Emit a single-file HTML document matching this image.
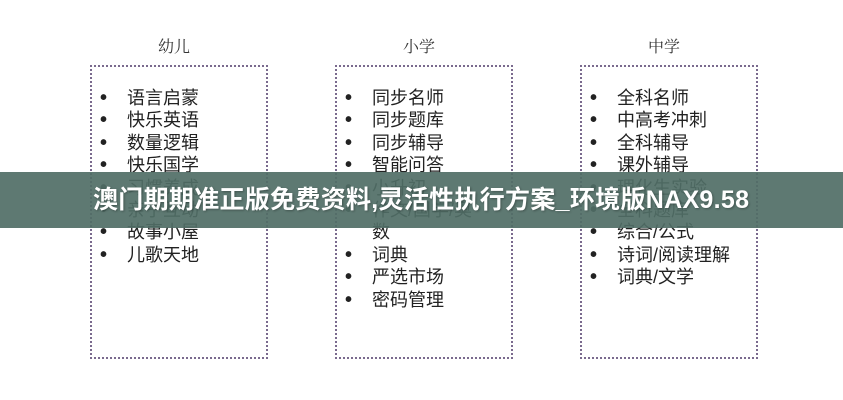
<!DOCTYPE html>
<html><head><meta charset="utf-8"><style>
body{margin:0;width:843px;height:400px;background:#fff;position:relative;overflow:hidden;font-family:"Liberation Sans","Noto Sans CJK SC",sans-serif;color:#222}
.box{position:absolute;top:65px;width:174px;height:290px;border:2px dotted #7a6a8e;box-sizing:content-box}
.h{position:absolute;top:34px;font-size:16px;font-family:"Noto Serif CJK SC","Noto Sans CJK SC",serif;color:#333}
.it{position:absolute;font-size:18px;line-height:22px;white-space:nowrap}
.b{position:absolute;font-size:20px;line-height:22px;font-weight:bold}
.banner{position:absolute;left:0;top:172px;width:843px;height:56px;background:rgba(80,110,102,0.92)}
.bt{position:absolute;left:93px;top:172px;line-height:56px;font-size:25px;letter-spacing:0.3px;font-weight:bold;color:#fff;white-space:nowrap;text-shadow:1px 1px 2px rgba(0,0,0,0.3);font-family:"Liberation Sans","Noto Sans CJK SC",sans-serif}
</style></head><body>
<div class="h" style="left:158px">幼儿</div>
<div class="h" style="left:403px">小学</div>
<div class="h" style="left:648px">中学</div>
<div class="box" style="left:90px"></div>
<div class="box" style="left:335px"></div>
<div class="box" style="left:580px"></div>
<div id="c"></div>
<script>
var cols=[[100,127,["语言启蒙","快乐英语","数量逻辑","快乐国学","习惯养成","亲子互动","故事小屋","儿歌天地"]],
[345,372,["同步名师","同步题库","同步辅导","智能问答","小升初","作文/国学/奥","*数","词典","严选市场","密码管理"]],
[590,617,["全科名师","中高考冲刺","全科辅导","课外辅导","理化生实验","全科题库","综合/公式","诗词/阅读理解","词典/文学"]]];
var h="";
cols.forEach(function(c){c[2].forEach(function(t,i){var y=87+i*22.4;var nb=t[0]=="*";if(nb)t=t.slice(1);
if(!nb)h+='<div class="b" style="left:'+c[0]+'px;top:'+y+'px">•</div>';
h+='<div class="it" style="left:'+c[1]+'px;top:'+y+'px">'+t+'</div>';});});
document.getElementById("c").innerHTML=h;
</script>
<div class="banner"></div>
<div class="bt">澳门期期准正版免费资料,灵活性执行方案_环境版NAX9.58</div>
</body></html>
